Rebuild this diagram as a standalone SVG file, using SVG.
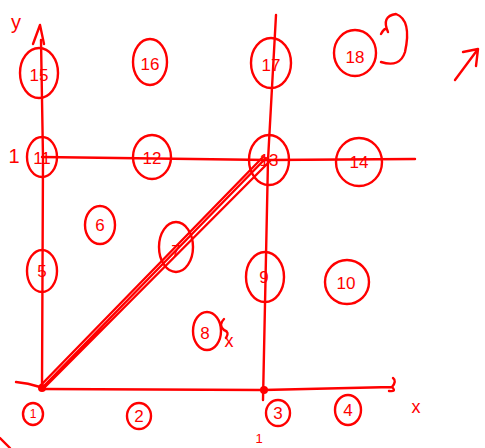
<svg xmlns="http://www.w3.org/2000/svg" width="485" height="448" viewBox="0 0 485 448">
<style>
.n{fill:none;stroke:#ff0000;stroke-width:2.4}
.l{fill:none;stroke:#ff0000;stroke-width:2.4;stroke-linecap:round;stroke-linejoin:round}
.t{fill:#ff0000;font-family:"Liberation Sans",Arial,sans-serif;font-size:17px;text-anchor:middle;dominant-baseline:central}
</style>
<rect width="485" height="448" fill="#ffffff"/>
<g id="connectors">
<path class="l" d="M42,387 L43,158 L41,40"/>
<path class="l" d="M33,44 L40,25 L44,44"/>
<path class="l" d="M42,389 L263,390 L392,387 Q397,381 393,378 M392,387 Q397,392 389,391"/>
<path class="l" d="M42,157 L268,160 L415,159"/>
<path class="l" d="M276,15 L268,160 L263,400"/>
<path class="l" d="M42,388 L266,158 M45,387 L270,161 M40,386 L263,157"/>
<path class="l" d="M16,382 Q28,383 40,387"/>
<path class="l" d="M0,438 L10,448"/>
<circle cx="42" cy="388" r="4" fill="#ff0000"/>
<circle cx="264" cy="390" r="4" fill="#ff0000"/>
</g>
<g id="n1"><ellipse class="n" cx="33" cy="414" rx="10" ry="11"/><text class="t" x="33" y="414" style="font-size:12px">1</text></g>
<g id="n2"><ellipse class="n" cx="139" cy="416" rx="12" ry="13"/><text class="t" x="139" y="416">2</text></g>
<g id="n3"><ellipse class="n" cx="278" cy="413" rx="12" ry="13"/><text class="t" x="278" y="413">3</text></g>
<g id="n4"><ellipse class="n" cx="348" cy="410" rx="13" ry="15"/><text class="t" x="348" y="410">4</text></g>
<g id="n5"><ellipse class="n" cx="42" cy="271" rx="15" ry="21"/><text class="t" x="42" y="271">5</text></g>
<g id="n6"><ellipse class="n" cx="100" cy="225" rx="15" ry="19"/><text class="t" x="100" y="225">6</text></g>
<g id="n7"><ellipse class="n" cx="176" cy="247" rx="17" ry="25"/><text class="t" x="176" y="251">7</text></g>
<g id="n8"><ellipse class="n" cx="207" cy="331" rx="14" ry="19"/><text class="t" x="205" y="333">8</text></g>
<g id="n9"><ellipse class="n" cx="265" cy="277" rx="19" ry="25"/><text class="t" x="264" y="277">9</text></g>
<g id="n10"><ellipse class="n" cx="347" cy="282" rx="22" ry="22"/><text class="t" x="346" y="283">10</text></g>
<g id="n11"><ellipse class="n" cx="42" cy="157" rx="15" ry="20"/><text class="t" x="42" y="158">11</text></g>
<g id="n12"><ellipse class="n" cx="152" cy="157" rx="19" ry="22"/><text class="t" x="152" y="158">12</text></g>
<g id="n13"><ellipse class="n" cx="269" cy="160" rx="20" ry="25"/><text class="t" x="269" y="160">13</text></g>
<g id="n14"><ellipse class="n" cx="359" cy="162" rx="23" ry="24"/><text class="t" x="359" y="162">14</text></g>
<g id="n15"><ellipse class="n" cx="39" cy="73" rx="19" ry="25"/><text class="t" x="39" y="75">15</text></g>
<g id="n16"><ellipse class="n" cx="150" cy="62" rx="17" ry="23"/><text class="t" x="150" y="64">16</text></g>
<g id="n17"><ellipse class="n" cx="271" cy="63" rx="20" ry="25"/><text class="t" x="271" y="65">17</text></g>
<g id="n18"><ellipse class="n" cx="355" cy="53" rx="21" ry="23"/><text class="t" x="355" y="57">18</text></g>
<g id="marks">
<text class="t" x="16" y="22" style="font-size:20px">y</text>
<text class="t" x="14" y="156" style="font-size:20px">1</text>
<text class="t" x="416" y="407" style="font-size:18px">x</text>
<text class="t" x="259" y="438" style="font-size:13px">1</text>
<text class="t" x="229" y="341" style="font-size:18px">x</text>
<path class="l" d="M224,319 Q218,325 224,330 Q230,332 226,338"/>
<path class="l" d="M381,34 Q386,25 388,32 Q381,16 396,14 Q412,20 405,52 Q400,68 381,62"/>
<path class="l" d="M455,80 L478,49 M463,52 L478,49 L476,66"/>
</g>
</svg>
